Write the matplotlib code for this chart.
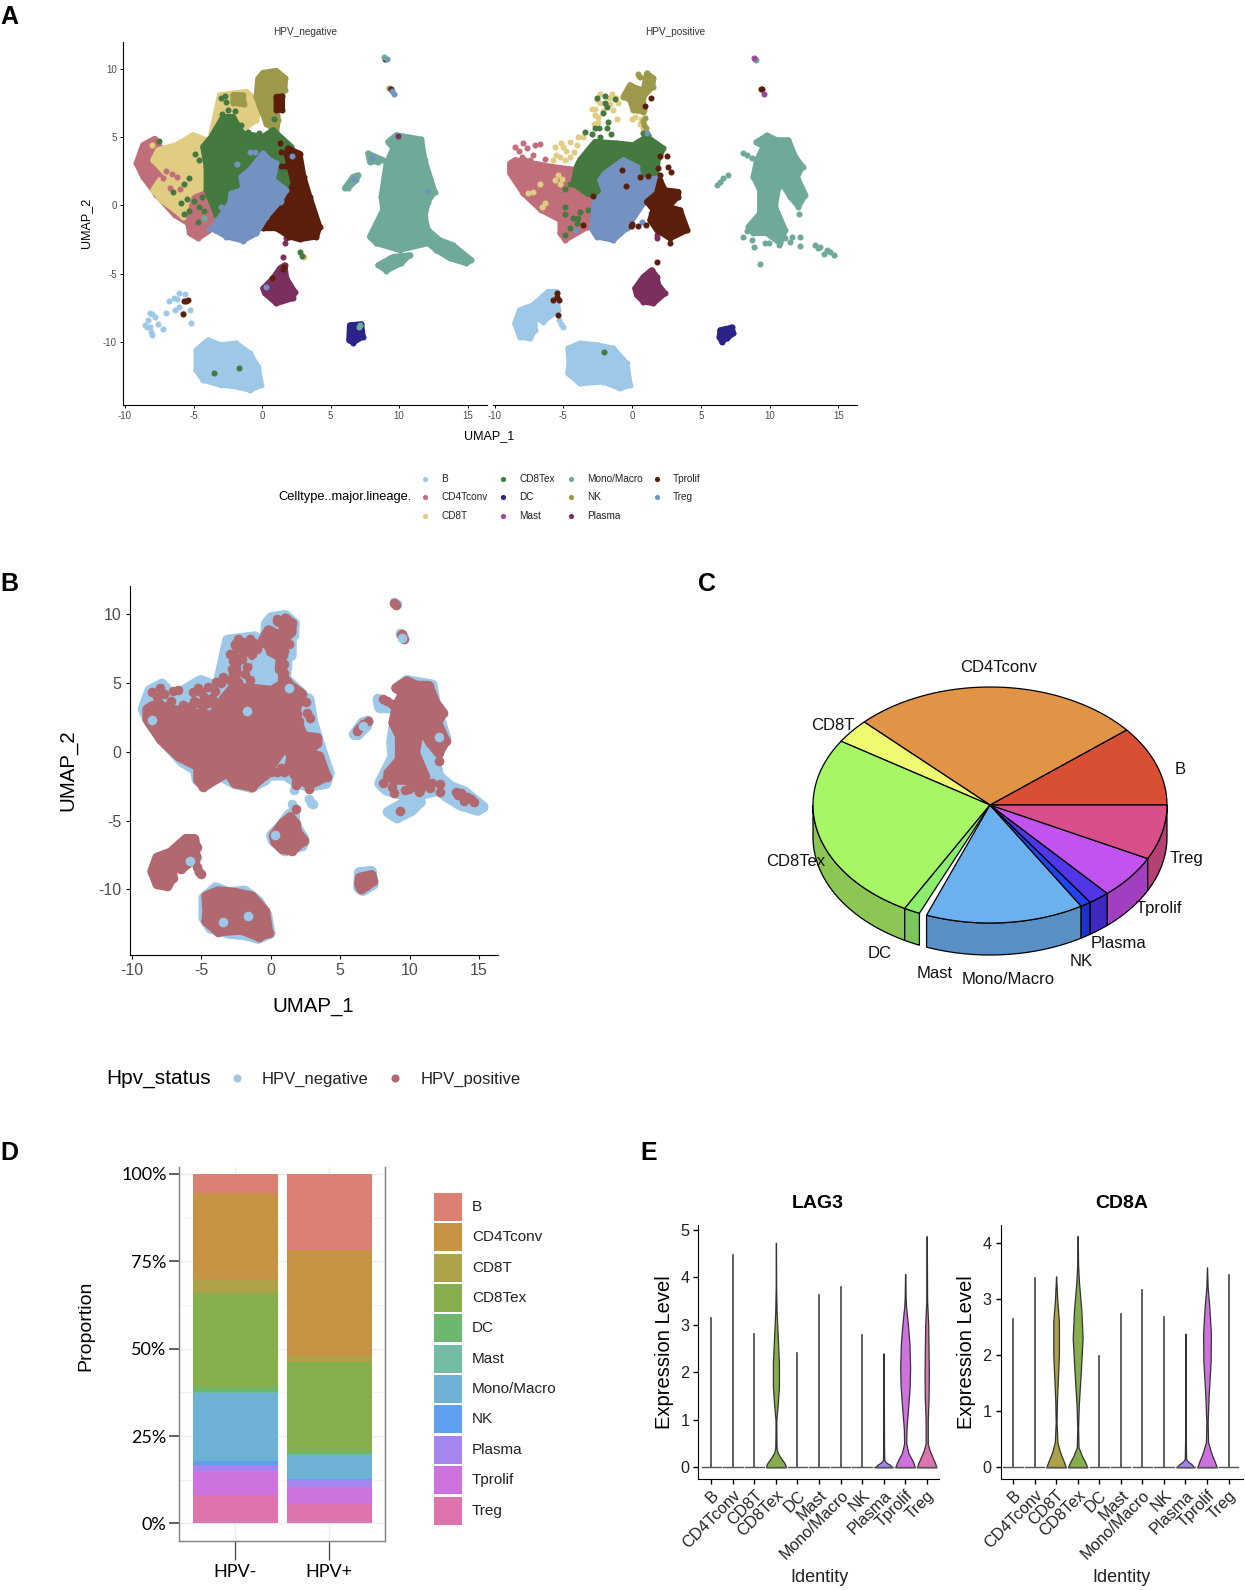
#!/usr/bin/env python3

import numpy as np
import matplotlib
matplotlib.use('Agg')
import matplotlib.pyplot as plt
from matplotlib.patches import Rectangle, Polygon

plt.rcParams['font.family'] = ['Liberation Sans', 'DejaVu Sans']
plt.rcParams['axes.unicode_minus'] = False

W, H = 1245, 1590

celltypes = ['B', 'CD4Tconv', 'CD8T', 'CD8Tex', 'DC', 'Mast', 'Mono/Macro', 'NK', 'Plasma', 'Tprolif', 'Treg']
umap_colors = ['#9DC8E8', '#C06F7A', '#E0CD82', '#44793F', '#2A2388', '#984A96', '#6EA99A', '#9C9A4A', '#7A2F5F', '#5A1E0B', '#7392C2']
c = dict(zip(celltypes, umap_colors))

### UMAP outlines of the dense parts

neg_cd4 = [(-9.17,3.08),(-8.69,4.43),(-7.83,4.9),(-7.47,4.3),(-6.0,2.84),(-3.58,.88),(-3.33,-.83),(-3.09,-1.08),(-3.58,-1.69),(-4.67,-2.42),(-5.28,-2.05),(-5.4,-1.32),(-6.37,-.71),(-7.71,.76),(-8.69,2.1)]
neg_cd8t_a = [(-7.96,3.33),(-7.59,4.06),(-6.25,4.43),(-5.04,5.16),(-4.06,4.79),(-3.82,3.08),(-4.06,1.37),(-5.28,.88),(-5.77,-.83),(-6.37,-.34),(-7.35,.39),(-7.96,1.12),(-7.47,1.86),(-6.62,1.86),(-7.71,3.08)]
neg_cd8t_b = [(-3.7,5.28),(-3.09,8.09),(-1.14,8.34),(-.17,7.48),(-.41,6.26),(-1.14,5.75),(-1.63,6.26),(-2.6,6.5),(-3.33,5.28)]
neg_cd8tex_a = [(-3.7,5.04),(-2.85,6.5),(-2.12,6.5),(-1.39,5.28),(.07,5.04),(.8,5.53),(2.14,4.3),(2.14,2.84),(1.65,3.08),(.8,3.33),(-.41,3.81),(-1.39,2.1),(-2.24,.64),(-2.48,-.83),(-3.33,-.71),(-4.06,1.12),(-4.06,2.84),(-4.31,4.3)]
neg_cd8tex_b = [(.8,3.4),(2.1,3.0),(2.1,1.2),(1.6,1.2),(.9,2.0)]
neg_tprolif_a = [(1.9,4.18),(2.75,3.8),(3.04,2.1),(3.48,.64),(4.2,-1.56),(3.97,-2.3),(2.75,-2.5),(2.0,-2.3),(1.05,-1.69),(.07,-1.69),(0,-.95),(.8,-.22),(1.78,.64),(2.3,1.6),(2.0,2.84),(1.78,3.8)]
neg_tprolif_b = [(1.05,7.97),(1.48,8.0),(1.48,6.99),(1.05,7.0)]
neg_treg = [(-3.58,-1.56),(-2.36,.15),(-2.24,.88),(-1.39,1.12),(-1.51,2.1),(-.9,2.59),(.07,3.81),(.56,3.33),(1.05,3.08),(.8,1.86),(1.78,1.12),(1.29,.27),(.32,-.83),(-.41,-2.05),(-1.39,-2.59),(-2.6,-2.3),(-3.45,-1.81)]
neg_nk_a = [(-.29,9.3),(.07,9.73),(1.05,9.88),(1.7,9.32),(1.65,8.46),(1.05,7.73),(1.17,6.26),(1.05,5.4),(.32,6.0),(-.17,7.24),(-.41,7.97)]
neg_nk_b = [(-2.1,8.1),(-1.4,8.1),(-1.3,7.4),(-2.1,7.5)]
neg_mono_a = [(9.2,4.67),(9.8,5.16),(11.63,4.84),(11.87,3.33),(12.6,1.0),(12.12,.27),(11.87,-.83),(12.12,-1.81),(12.97,-2.54),(13.94,-2.91),(15.28,-4.01),(14.9,-4.25),(13.7,-3.89),(12.72,-3.28),(12.12,-2.79),(10.05,-3.28),(8.35,-2.79),(7.86,-2.3),(8.83,-.34),(8.71,.64),(9.08,3.08),(9.56,4.18)]
neg_mono_b = [(8.47,-4.38),(9.56,-3.77),(10.78,-3.64),(10.17,-4.25),(9.08,-4.79)]
neg_mono_c = [(7.74,3.81),(8.83,3.33),(8.47,3.2),(7.86,3.2)]
neg_mono_d = [(6.03,1.25),(6.64,2.1),(7.01,2.22),(6.89,1.86),(6.28,1.25)]
neg_dc = [(6.4,-8.78),(7.25,-8.7),(7.37,-9.63),(6.64,-10.07),(6.35,-9.88)]
neg_plasma = [(.07,-6.09),(.8,-5.35),(1.29,-4.62),(1.65,-4.38),(1.78,-5.35),(2.38,-6.33),(2.26,-6.82),(1.05,-7.19),(.2,-6.45)]
neg_b = [(-4.79,-10.61),(-3.94,-9.88),(-3.04,-10.24),(-1.87,-10.12),(-.9,-10.86),(-.29,-11.85),(-.05,-13.18),(-.9,-13.55),(-1.75,-13.3),(-2.97,-13.18),(-4.31,-12.81),(-4.79,-12.08)]

### single dots standing out of the dense parts

neg_b_pts = [(-8.56,-8.78),(-8.2,-7.92),(-7.83,-8.17),(-7.59,-8.7),(-8.08,-9.27),(-8.2,-8.9),(-7.23,-9.1),(-7.0,-7.92),(-6.8,-7.0),(-6.45,-6.8),(-6.06,-6.45),(-5.64,-6.5),(-6.06,-7.43),(-6.37,-7.68),(-5.77,-7.92),(-5.28,-7.68),(-5.2,-8.6),(-8.32,-8.41),(-8.0,-9.5),(-6.2,-6.9),(-8.0,-8.0),(-8.4,-8.9)]
neg_cd4_pts = [(-3.0,-13.1),(-7.0,2.5),(-6.6,2.3),(-6.2,2.1),(-7.2,2.0),(-6.0,1.2),(-6.7,1.3)]
neg_cd8t_pts = [(3.04,-3.79),(-7.6,3.9),(-8.0,4.4)]
neg_cd8tex_pts = [(-2.7,8.0),(-3.0,7.9),(-2.5,7.0),(-2.9,6.7),(-2.2,6.2),(-1.5,5.9),(-1.0,5.4),(-.5,5.0),(-.2,5.3),(-2.6,7.6),(-2.0,6.9),(-5.5,.5),(-5.9,.2),(-5.0,.3),(-4.6,-.1),(-4.4,.6),(-5.3,-.4),(-4.7,-1.2),(-4.2,-.4),(-6.5,1.0),(-5.3,2.0),(-5.7,1.6),(-4.9,3.8),(-4.6,3.3),(-7.5,4.7),(.9,6.3),(-3.3,-.3),(-5.7,-.6),(1.5,3.0),(1.3,2.6),(2.75,-3.4),(2.92,-3.72),(-3.5,-12.3),(-1.7,-11.9)]
neg_tprolif_pts = [(1.3,4.6),(1.4,3.9),(1.4,2.9),(1.7,2.9),(-5.7,-7.0),(-5.4,-6.95),(-5.55,-7.05),(-5.8,-7.95),(9.0,10.7),(9.4,8.5),(1.5,-4.65),(1.6,-4.55),(.7,-5.3)]
neg_treg_pts = [(-1.8,3.0),(-.9,3.9),(-.5,3.9),(-3.0,-.1),(-3.9,-1.7),(2.2,3.6),(1.4,.3),(.3,-6.0),(9.1,10.7),(9.5,8.4),(9.6,8.2),(8.05,3.5),(6.75,1.9),(12.15,1.05)]
neg_plasma_pts = [(1.53,-3.81),(1.7,-2.79),(1.78,-2.05),(1.73,-2.42),(9.9,5.1)]
neg_mono_pts = [(7.13,-8.78),(7.1,-8.95),(8.9,10.85),(-4.2,-.9)]
neg_nk_pts = [(9.3,8.6)]

pos_cd4 = [(-8.88,3.08),(-8.5,3.33),(-5.85,2.84),(-4.0,2.6),(-2.6,.7),(-2.57,-.83),(-3.18,-1.56),(-4.85,-2.54),(-5.22,-2.05),(-5.22,-1.08),(-6.63,-.34),(-7.91,.88),(-8.88,2.35)]
pos_cd8tex = [(-3.79,3.33),(-2.69,4.67),(-1.1,4.55),(.1,4.43),(1.07,5.04),(2.28,4.18),(1.8,3.08),(1.8,2.1),(1.07,2.1),(.34,2.35),(-.87,3.08),(-2.09,2.1),(-2.57,.64),(-3.3,.88),(-4.27,1.6),(-4.03,2.84)]
pos_treg = [(-2.94,-1.69),(-2.69,.39),(-1.97,.88),(-2.33,1.86),(-1.97,2.35),(-.63,3.33),(.34,2.84),(.58,1.86),(1.8,1.98),(1.67,1.12),(.83,.15),(-.39,-1.69),(-1.36,-2.54),(-2.57,-2.3)]
pos_tprolif = [(2.04,1.86),(2.4,1.12),(3.37,1.0),(3.37,.64),(2.64,-.1),(3.5,-.34),(4.03,-1.81),(2.77,-2.42),(1.8,-1.81),(1.31,-1.08),(1.55,-.34),(1.07,.27),(1.8,.88)]
pos_nk = [(-.63,7.97),(-.15,8.83),(.34,8.58),(.83,8.46),(1.07,9.68),(1.55,9.32),(1.5,8.7),(.83,7.97),(.83,6.87),(.1,7.0),(-.15,7.73)]
pos_plasma = [(.22,-6.09),(.83,-5.23),(1.43,-4.74),(1.8,-5.23),(1.92,-5.84),(2.4,-6.45),(1.55,-7.19),(.83,-7.07),(.34,-6.58)]
pos_mono_a = [(9.03,4.62),(9.81,5.13),(10.53,4.79),(11.38,4.79),(11.87,3.57),(12.4,2.84),(12.0,2.1),(12.6,.77),(12.1,-.1),(11.5,.64),(10.9,1.6),(10.66,1.37),(10.41,-.1),(11.14,-1.81),(10.78,-2.79),(9.81,-2.05),(8.83,-2.05),(8.47,-1.56),(9.3,-.59),(9.3,1.12),(8.83,2.1),(9.08,3.33),(9.56,4.3)]
pos_b_a = [(-4.64,-10.49),(-3.79,-10.12),(-2.57,-10.24),(-1.36,-10.49),(-.39,-11.59),(-.15,-13.18),(-.87,-13.42),(-2.09,-12.93),(-3.79,-13.06),(-4.64,-12.32),(-4.56,-11.59)]
pos_b_b = [(-8.52,-8.66),(-8.16,-7.68),(-7.19,-7.31),(-6.1,-6.33),(-5.49,-6.33),(-5.37,-7.68),(-6.46,-8.53),(-7.06,-8.17),(-7.06,-9.14),(-7.43,-9.76),(-8.16,-9.63)]
pos_dc = [(6.41,-9.14),(7.26,-8.95),(7.38,-9.39),(6.89,-9.76),(6.53,-10.0),(6.36,-9.63)]

pos_b_pts = [(-5.3,-8.4),(-5.15,-8.7),(-5.0,-8.9)]
pos_cd4_pts = [(-8.52,4.3),(-7.96,4.6),(-7.66,4.18),(-8.03,3.57),(-7.18,3.69),(-6.7,4.5),(-7.06,4.43),(-7.43,3.33),(-6.33,3.37),(-7.8,3.3),(-8.2,4.0),(-.9,-12.64)]
pos_cd8t_pts = [(-5.6,4.3),(-5.0,4.3),(-4.5,4.67),(-3.9,5.04),(-5.24,3.57),(-4.5,3.57),(-5.73,3.33),(-5.36,2.2),(-5.24,1.6),(-5.6,1.86),(-6.7,1.6),(-7.18,1.0),(-7.55,.93),(-6.33,.2),(-6.58,-.15),(-4.2,3.9),(-4.8,3.95),(-5.5,3.7),(-3.6,5.0),(-5.1,1.9),(-2.57,7.73),(-2.7,7.1),(-2.94,7.1),(-1.48,8.2),(-2.33,8.2),(-1.0,7.48),(-1.36,7.0),(-1.12,6.3),(-2.45,6.5),(-2.8,6.0),(.0,6.33),(.22,6.5),(.58,6.0),(.83,5.65),(1.55,4.43),(-2.3,7.5),(-1.9,7.3),(-1.7,7.9),(-2.1,6.9),(.46,9.49),(-1.6,7.4),(-1.2,7.9),(-2.7,6.6),(-2.5,6.1),(.35,6.9),(.65,6.3),(1.3,4.9),(-5.2,4.6),(-4.9,3.3),(-4.0,4.4)]
pos_cd8tex_pts = [(-2.57,7.85),(-1.97,8.0),(-1.24,7.8),(-1.84,7.24),(-2.09,6.75),(-1.97,7.48),(-2.69,5.65),(-1.84,5.65),(-3.42,5.4),(-2.33,5.04),(-1.72,6.14),(.83,5.28),(1.19,5.16),(-2.9,5.2),(-2.4,5.7),(-1.5,5.2),(-4.51,1.6),(-4.88,-.1),(-4.88,-.6),(-3.79,-.46),(-3.18,-.34),(-4.03,-1.32),(-4.51,-1.69),(-4.88,-2.18),(-3.9,-.9),(-4.3,-.9),(-4.9,1.2),(-2.04,-10.73)]
pos_tprolif_pts = [(2.04,3.64),(2.52,3.62),(1.87,2.71),(2.65,2.84),(2.82,2.47),(2.04,2.22),(-.75,2.59),(.58,2.1),(1.19,2.15),(-.46,1.42),(-2.86,.71),(-3.54,-1.44),(2.77,-2.74),(1.8,-4.13),(1.0,-1.45),(.45,-1.5),(.0,-1.35),(-.1,-1.5),(1.36,7.85),(.95,7.31),(-5.49,-6.45),(-5.78,-6.94),(-5.32,-6.94),(-5.41,-8.04),(-5.45,-6.7),(9.39,8.5),(9.45,8.55)]
pos_treg_pts = [(1.07,5.28),(-4.1,-1.8),(1.4,-.55),(.75,-1.2),(.0,-1.5),(8.97,10.75)]
pos_nk_pts = [(.46,9.6),(.6,9.4),(1.1,9.3),(1.4,9.0),(.9,7.0),(.95,6.4),(.8,6.2),(.85,5.9),(1.0,5.7)]
pos_plasma_pts = [(1.8,-2.2),(1.8,-2.4)]
pos_mono_pts = [(8.1,-2.3),(8.35,-1.86),(8.71,-2.54),(8.88,-3.03),(9.68,-2.79),(9.93,-2.74),(10.66,-2.91),(11.14,-2.42),(11.63,-2.3),(11.5,-2.66),(12.23,-2.35),(12.23,-2.96),(12.11,-.64),(13.33,-2.91),(13.7,-3.03),(14.17,-3.28),(14.66,-3.64),(13.93,-3.6),(13.5,-3.15),(14.42,-3.4),(9.32,-4.3),(8.1,3.81),(8.35,3.69),(8.71,3.45),(9.08,3.33),(6.2,1.49),(6.4,1.74),(6.65,1.98),(7.0,2.22),(7.2,-8.95),(9.05,10.65)]
pos_mast_pts = [(8.9,10.8),(9.6,8.2)]

### draw order of each UMAP panel: type, outlines, single dots
neg_layers = [('CD4Tconv', [neg_cd4], []), ('CD8T', [neg_cd8t_a, neg_cd8t_b], neg_cd8t_pts), ('CD4Tconv', [], neg_cd4_pts), ('Mono/Macro', [neg_mono_a, neg_mono_b, neg_mono_c, neg_mono_d], []),
              ('NK', [neg_nk_a, neg_nk_b], neg_nk_pts), ('B', [neg_b], neg_b_pts), ('Plasma', [neg_plasma], neg_plasma_pts), ('DC', [neg_dc], []),
              ('CD8Tex', [neg_cd8tex_a, neg_cd8tex_b], neg_cd8tex_pts), ('Tprolif', [neg_tprolif_a, neg_tprolif_b], neg_tprolif_pts), ('Treg', [neg_treg], neg_treg_pts),
              ('Mono/Macro', [], neg_mono_pts)]
pos_layers = [('CD4Tconv', [pos_cd4], pos_cd4_pts), ('CD8T', [], pos_cd8t_pts), ('Mono/Macro', [pos_mono_a], pos_mono_pts), ('NK', [pos_nk], pos_nk_pts),
              ('B', [pos_b_a, pos_b_b], pos_b_pts), ('Plasma', [pos_plasma], pos_plasma_pts), ('DC', [pos_dc], []), ('CD8Tex', [pos_cd8tex], pos_cd8tex_pts),
              ('Treg', [pos_treg], pos_treg_pts), ('Tprolif', [pos_tprolif], pos_tprolif_pts), ('Mast', [], pos_mast_pts)]

# light blue dots that sit on top in panel B
b_top_pts = [(-1.68,2.92),(-8.52,2.32),(.31,-6.06),(-5.81,-7.95),(-3.43,-12.37),(-1.63,-11.93),(12.13,1.06),(6.67,1.88),(9.48,8.24),(1.32,4.61)]
b_top_patch = [(-1.2,6.5),(-.6,7.0),(.2,6.6),(.1,5.6),(-1.1,5.6)]
b_neg_color = '#9DC8E8'
b_pos_color = '#B2686F'

### pie slices, degrees on the ellipse, counterclockwise from the right
pie_degrees = [39.5, 95.8, 12.0, 93.9, 5.3, 2.5, 52.0, 3.5, 7.0, 21.5, 27.0]
pie_top = ['#D94F33', '#E19446', '#F0FA70', '#A6F666', '#8DEE6E', '#FFFFFF', '#6BB1F0', '#2244EE', '#5036E6', '#C253EE', '#D94F8C']
pie_side = ['#B04028', '#B47638', '#C0C85A', '#8CC655', '#7CC45C', '#FFFFFF', '#588FC4', '#1C30CC', '#4028C0', '#A23FC0', '#B44074']
pie_label_px = [(1180,769), (999,668), (833,726), (796,861), (880,953), (935,973), (1008,979), (1081,962), (1118,943), (1159,908), (1187,858)]

### stacked proportions, percent
hpv_neg = [5.4, 24.8, 3.9, 26.9, 1.5, 0.3, 19.3, 1.2, 1.9, 6.7, 8.1]
hpv_pos = [21.9, 30.2, 1.8, 25.35, 0.95, 0.1, 6.9, 0.4, 2.1, 4.7, 5.6]
bar_colors = ['#DB8073', '#C69345', '#ADA24A', '#86AE4C', '#6DB76D', '#74BBA5', '#6DB2D4', '#5E9FEE', '#A585EE', '#CE73DD', '#DE74AE']
bar_groups = ['HPV-', 'HPV+']

### violins: top of each thin violin, and profile (level, half width) where it has a body
lag3_max = [3.15, 4.47, 2.8, 4.73, 2.4, 3.63, 3.8, 2.78, 2.4, 4.07, 4.87]
cd8a_max = [2.64, 3.37, 3.4, 4.12, 1.98, 2.73, 3.15, 2.67, 2.38, 3.56, 3.42]
lag3_profiles = {
    'CD8Tex': [(0,.45),(.05,.44),(.1,.38),(.2,.22),(.3,.09),(.4,.03),(.7,.02),(1,.02),(1.3,.08),(1.7,.14),(2.2,.14),(2.8,.08),(3.3,.03),(3.8,.01),(4.73,.003)],
    'Plasma': [(0,.4),(.05,.3),(.1,.12),(.15,.03),(.4,.02),(1,.015),(2.4,.003)],
    'Tprolif': [(0,.45),(.1,.38),(.2,.27),(.3,.15),(.5,.05),(.8,.06),(1.2,.13),(1.7,.21),(2.1,.23),(2.6,.2),(3.0,.13),(3.4,.04),(3.6,.02),(4.07,.005)],
    'Treg': [(0,.45),(.1,.38),(.2,.28),(.35,.14),(.5,.05),(1,.05),(1.5,.09),(2,.1),(3,.07),(3.5,.02),(4.87,.003)],
}
cd8a_profiles = {
    'CD8T': [(0,.45),(.1,.36),(.2,.25),(.3,.16),(.45,.06),(.8,.02),(1.2,.04),(2,.13),(2.6,.13),(3,.05),(3.4,.003)],
    'CD8Tex': [(0,.45),(.1,.34),(.2,.2),(.3,.1),(.35,.04),(.7,.02),(1.1,.05),(1.6,.13),(2.3,.23),(2.8,.17),(3.3,.06),(3.6,.02),(4.12,.003)],
    'Plasma': [(0,.4),(.05,.3),(.1,.12),(.15,.03),(.5,.015),(2.38,.003)],
    'Tprolif': [(0,.45),(.1,.36),(.2,.25),(.3,.16),(.45,.05),(.8,.03),(1.3,.08),(1.9,.17),(2.4,.18),(2.9,.1),(3.2,.03),(3.56,.003)],
}
violin_colors = dict(zip(celltypes, bar_colors))

fig = plt.figure(figsize=(W / 100, H / 100), dpi=100)


def px_axes(left, top, right, bottom):
    return fig.add_axes([left / W, 1 - bottom / H, (right - left) / W, (bottom - top) / H])


def draw_blob(ax, outlines, pts, color, lw, size):
    for poly in outlines:
        arr = np.array(poly)
        ax.fill(arr[:, 0], arr[:, 1], color=color, lw=lw, joinstyle='round', zorder=2)
        ax.scatter(arr[:, 0], arr[:, 1], s=size, color=color, lw=0, zorder=2)
    if pts:
        arr = np.array(pts)
        ax.scatter(arr[:, 0], arr[:, 1], s=size, color=color, lw=0, zorder=2)


over = fig.add_axes([0, 0, 1, 1], zorder=10)
over.set_xlim(0, W)
over.set_ylim(H, 0)
over.axis('off')

for letter, lx, ly in [('A', 0, 17), ('B', 0, 584), ('C', 698, 584), ('D', 0, 1153), ('E', 640, 1153)]:
    over.text(lx, ly, letter, fontsize=18, fontweight='bold', va='center')

#########################PANEL A #############################

ax1 = px_axes(122.7, 41.7, 486.7, 405)
ax1.set_xlim(-10.17, 16.4)
ax1.set_ylim(-14.64, 12.0)
for layer in neg_layers:
    draw_blob(ax1, layer[1], layer[2], c[layer[0]], 4.0, 19)
ax1.set_title('HPV_negative', fontsize=7.2, color='#333333', pad=5)

ax2 = px_axes(492.7, 41.7, 856.7, 405)
ax2.set_xlim((492.7 - 632) / 13.75, (856.7 - 632) / 13.75)
ax2.set_ylim(-14.64, 12.0)
for layer in pos_layers:
    draw_blob(ax2, layer[1], layer[2], c[layer[0]], 4.0, 19)
ax2.set_title('HPV_positive', fontsize=7.2, color='#333333', pad=5)

for ax in [ax1, ax2]:
    ax.spines['top'].set_visible(False)
    ax.spines['right'].set_visible(False)
    ax.set_xticks([-10, -5, 0, 5, 10, 15])
    ax.tick_params(labelsize=7, labelcolor='#4D4D4D', length=2.2, width=0.7, pad=2)
ax1.set_yticks([-10, -5, 0, 5, 10])
ax2.set_yticks([])
ax2.spines['left'].set_visible(False)

over.text(489, 436, 'UMAP_1', fontsize=9, ha='center', va='center')
over.text(86, 223, 'UMAP_2', fontsize=9, ha='center', va='center', rotation=90)
over.text(278, 497, 'Celltype..major.lineage.', fontsize=9.3, va='center')
legend_x = [425, 425, 425, 503, 503, 503, 571, 571, 571, 657, 657]
legend_y = [479, 497, 516, 479, 497, 516, 479, 497, 516, 479, 497]
for name, col, dx, dy in zip(celltypes, umap_colors, legend_x, legend_y):
    over.scatter(dx, dy, s=14, color=col, lw=0)
    over.text(dx + 16, dy, name, fontsize=7.2, color='#222222', va='center')

#########################PANEL B #############################

ax3 = px_axes(129.7, 586, 497.7, 954.7)
ax3.set_xlim((129.7 - 270.6) / 13.89, (497.7 - 270.6) / 13.89)
ax3.set_ylim(-14.74, 12.03)
for layer in neg_layers:
    draw_blob(ax3, layer[1], layer[2], b_neg_color, 8, 48)
ax3.fill(*zip(*b_top_patch), color=b_neg_color, lw=3, zorder=2)
for layer in pos_layers:
    draw_blob(ax3, layer[1], layer[2], b_pos_color, 7, 48)
ax3.fill(*zip(*b_top_patch), color=b_neg_color, lw=3, zorder=2)
arr = np.array(b_top_pts)
ax3.scatter(arr[:, 0], arr[:, 1], s=48, color=b_neg_color, lw=0, zorder=3)
ax3.spines['top'].set_visible(False)
ax3.spines['right'].set_visible(False)
ax3.set_xticks([-10, -5, 0, 5, 10, 15])
ax3.set_yticks([-10, -5, 0, 5, 10])
ax3.tick_params(labelsize=11.5, labelcolor='#4D4D4D', length=3, width=0.8, pad=3)

over.text(313, 1006, 'UMAP_1', fontsize=14.7, ha='center', va='center')
over.text(68, 770, 'UMAP_2', fontsize=14.7, ha='center', va='center', rotation=90)
over.text(106, 1079, 'Hpv_status', fontsize=15, va='center')
over.scatter([237], [1078], s=34, color=b_neg_color, lw=0)
over.text(262, 1079, 'HPV_negative', fontsize=12, va='center', color='#222222')
over.scatter([395], [1078], s=34, color=b_pos_color, lw=0)
over.text(421, 1079, 'HPV_positive', fontsize=12, va='center', color='#222222')

#########################PANEL C #############################

RX, RY, DEPTH = 177.0, 118.0, 32.0 / 118.0
ax4 = px_axes(990 - 180, 805 - 122, 990 + 180, 805 + 155)
ax4.set_xlim(-180 / RX, 180 / RX)
ax4.set_ylim(-155 / RY, 122 / RY)
ax4.axis('off')

bounds = np.concatenate([[0], np.cumsum(pie_degrees)])
for i in range(len(pie_degrees)):
    a0, a1 = max(bounds[i], 180), bounds[i + 1]
    if a1 <= 180 or celltypes[i] == 'Mast':
        continue
    t = np.radians(np.linspace(a0, a1, 40))
    sx = np.concatenate([np.cos(t), np.cos(t[::-1])])
    sy = np.concatenate([np.sin(t), np.sin(t[::-1]) - DEPTH])
    ax4.add_patch(Polygon(np.column_stack([sx, sy]), closed=True, fc=pie_side[i], ec='black', lw=0.9))
for i in range(len(pie_degrees)):
    if celltypes[i] == 'Mast':
        continue
    t = np.radians(np.linspace(bounds[i], bounds[i + 1], 60))
    tx = np.concatenate([[0], np.cos(t)])
    ty = np.concatenate([[0], np.sin(t)])
    ax4.add_patch(Polygon(np.column_stack([tx, ty]), closed=True, fc=pie_top[i], ec='black', lw=0.9))
for name, (lx, ly) in zip(celltypes, pie_label_px):
    over.text(lx, ly, name, fontsize=12, ha='center', va='center', color='#111111')

#########################PANEL D #############################

ax5 = px_axes(179.3, 1167, 385.3, 1541)
ax5.set_xlim(-0.596, 1.596)
ax5.set_ylim(-0.0505, 1.0200)
for j, vals in enumerate([hpv_neg, hpv_pos]):
    tops = 100 - np.cumsum([0] + vals[:-1])
    for val, tp, col in zip(vals, tops, bar_colors):
        ax5.bar(j, val / 100, width=0.9, bottom=(tp - val) / 100, color=col, lw=0, zorder=2)
ax5.set_xticks([0, 1])
ax5.set_xticklabels(bar_groups, fontsize=13, family='Lato')
ax5.set_yticks([0, .25, .5, .75, 1])
ax5.set_yticklabels(['0%', '25%', '50%', '75%', '100%'], fontsize=13, family='Lato')
ax5.set_yticks([.125, .375, .625, .875], minor=True)
ax5.grid(True, which='major', color='#EBEBEB', lw=1)
ax5.grid(True, which='minor', axis='y', color='#F2F2F2', lw=0.7)
ax5.set_axisbelow(True)
ax5.tick_params(axis='y', which='major', length=7.2, width=1.2, color='#444444', pad=2)
ax5.tick_params(axis='y', which='minor', length=0)
ax5.tick_params(axis='x', length=13.4, width=0.9, color='#444444', pad=3)
for sp in ax5.spines.values():
    sp.set_color('#7F7F7F')
    sp.set_linewidth(1)
ax5.spines['top'].set_visible(False)
over.text(86, 1326, 'Proportion', fontsize=14, ha='center', va='center', rotation=90)
for k, (name, col) in enumerate(zip(celltypes, bar_colors)):
    over.add_patch(Rectangle((434, 1193 + k * 30.35), 27.7, 28, fc=col, ec='none'))
    over.text(472, 1207 + k * 30.35, name, fontsize=11, va='center', color='#222222')

#########################PANEL E #############################


def violin_panel(ax, tops, profiles, yticks, ylim, xlim):
    positions = np.arange(1, len(celltypes) + 1)
    for pos, name, top in zip(positions, celltypes, tops):
        if name in profiles:
            prof = np.array(profiles[name])
            ax.fill_betweenx(prof[:, 0], pos - prof[:, 1], pos + prof[:, 1], fc=violin_colors[name], ec='#333333', lw=0.9, zorder=2)
        else:
            ax.plot([pos, pos], [0, top], color='#444444', lw=1.2, zorder=2)
        ax.plot([pos - .45, pos + .45], [0, 0], color='#555555', lw=1.0, zorder=2)
    ax.set_xticks(positions)
    ax.set_xticklabels(celltypes, rotation=45, ha='right', rotation_mode='anchor', fontsize=11.7, color='#222222')
    ax.set_yticks(yticks)
    ax.set_ylim(*ylim)
    ax.set_xlim(*xlim)
    ax.tick_params(axis='y', labelsize=11.7, labelcolor='#222222', length=3.4, width=1, pad=3)
    ax.tick_params(axis='x', length=3.4, width=1, pad=3)
    ax.spines['top'].set_visible(False)
    ax.spines['right'].set_visible(False)


ax6 = px_axes(698.3, 1225, 939.3, 1478.7)
violin_panel(ax6, lag3_max, lag3_profiles, [0, 1, 2, 3, 4, 5], (-11.4 / 47.46, 242.3 / 47.46), (.396, 11.585))
ax7 = px_axes(1000.5, 1225, 1243, 1478.7)
violin_panel(ax7, cd8a_max, cd8a_profiles, [0, 1, 2, 3, 4], (-11.4 / 56.15, 242.3 / 56.15), (.42, 11.67))
over.text(818, 1204, 'LAG3', fontsize=14, fontweight='bold', ha='center', va='center')
over.text(1122, 1204, 'CD8A', fontsize=14, fontweight='bold', ha='center', va='center')
over.text(665, 1352, 'Expression Level', fontsize=14.5, ha='center', va='center', rotation=90)
over.text(966, 1352, 'Expression Level', fontsize=14.5, ha='center', va='center', rotation=90)
over.text(820, 1578, 'Identity', fontsize=13, ha='center', va='center', color='#222222')
over.text(1122, 1578, 'Identity', fontsize=13, ha='center', va='center', color='#222222')

fig.savefig('out.png', dpi=100)
